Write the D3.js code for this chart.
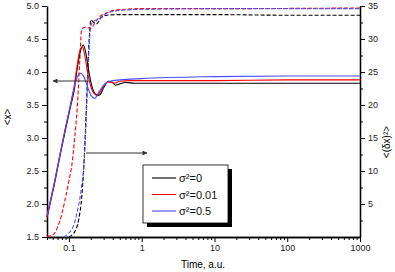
<!DOCTYPE html>
<html>
<head>
<meta charset="utf-8">
<script src="https://cdn.jsdelivr.net/npm/d3@7"></script>
<style>
body { margin:0; background:#fff; }
text { font-family: "Liberation Sans", Arial, sans-serif; }
</style>
</head>
<body>
<div id="chart"></div>
<script>
// time points and <x> (solid, left axis)
var tBlack = [0.05,0.064,0.077,0.09,0.105,0.118,0.13,0.145,0.158,0.17,0.185,0.2,0.22,0.25,0.27,0.3,0.35,0.4,0.44,0.5,0.6,0.8,1,10,100,1000];
var xBlack = [1.8,2.33,2.78,3.13,3.47,3.72,4.05,4.33,4.41,4.3,4.05,3.85,3.7,3.64,3.66,3.76,3.86,3.84,3.8,3.82,3.84,3.83,3.83,3.83,3.83,3.83];
var tRed = [0.05,0.064,0.077,0.09,0.105,0.118,0.13,0.142,0.154,0.165,0.18,0.2,0.22,0.245,0.27,0.3,0.35,0.42,0.5,0.7,1,10,100,1000];
var xRed = [1.8,2.35,2.8,3.16,3.5,3.78,4.1,4.33,4.38,4.25,4.0,3.78,3.68,3.65,3.7,3.79,3.85,3.83,3.86,3.87,3.87,3.87,3.88,3.88];
var tBlue = [0.05,0.064,0.077,0.09,0.105,0.116,0.13,0.145,0.16,0.18,0.2,0.226,0.26,0.3,0.37,0.5,1,10,100,1000];
var xBlue = [1.83,2.36,2.8,3.16,3.5,3.73,3.92,3.98,3.93,3.78,3.65,3.6,3.7,3.8,3.86,3.88,3.9,3.93,3.94,3.94];

// <(dx)^2> (dashed, right axis)
var tdBlack = [0.1,0.12,0.136,0.15,0.16,0.17,0.18,0.19,0.2,0.22,0.24,0.28,0.33,0.5,1,10,100,1000];
var dBlack = [0,0.8,2.6,6,10.5,17,24,30,32.9,32.5,32.3,33.3,33.6,33.7,33.7,33.7,33.6,33.6];
var tdRed = [0.05,0.06,0.07,0.08,0.09,0.1,0.11,0.12,0.13,0.14,0.15,0.17,0.2,0.22,0.26,0.32,0.4,0.6,1,10,1000];
var dRed = [0.1,0.3,1.5,3.5,6,8.5,11,15,19.5,26,31.5,31.8,31.6,32.2,33.3,33.9,34.3,34.5,34.6,34.6,34.7];
var tdBlue = [0.085,0.1,0.11,0.12,0.13,0.14,0.15,0.16,0.17,0.18,0.19,0.2,0.22,0.26,0.32,0.4,0.6,1,10,1000];
var dBlue = [0,0.6,1.2,2.2,3.8,5.5,7.8,10.5,16,23,29,32,32.7,33,33.8,34.2,34.4,34.5,34.6,34.6];

var seriesNames = ["\u03c3\u00b2=0","\u03c3\u00b2=0.01","\u03c3\u00b2=0.5"];
var seriesColors = ["#000000","#ff0000","#4c4cff"];
var xTickVals = [0.1,1,10,100,1000];
var xTickLabels = ["0.1","1","10","100","1000"];
var leftTicks = [1.5,2.0,2.5,3.0,3.5,4.0,4.5,5.0];
var rightTicks = [5,10,15,20,25,30,35];

var width = 395, height = 272;
var margin = {left:47, right:35, top:6, bottom:35};

var svg = d3.select("#chart").append("svg")
	.attr("width",width)
	.attr("height",height);

var xScale = d3.scaleLog().domain([0.05,1000]).range([margin.left,width-margin.right]);
var yLeft = d3.scaleLinear().domain([1.5,5]).range([height-margin.bottom,margin.top]);
var yRight = d3.scaleLinear().domain([0,35]).range([height-margin.bottom,margin.top]);

// minor ticks
var xMinor = [];
[0.01,0.1,1,10,100].forEach(function(p){
	for(var k=2;k<10;k++){
		var v = k*p;
		if(v>=0.05 && v<=1000) xMinor.push(v);
	}
});
var leftMinor = d3.range(1.75,5,0.5);
var rightMinor = d3.range(2.5,35,5);

var zero = height-margin.bottom;

svg.append("g")
	.attr("transform","translate(0,"+zero+")")
	.call(d3.axisBottom(xScale).tickValues(xMinor).tickSize(3).tickFormat("").tickSizeOuter(0));
svg.append("g")
	.attr("class","xaxis")
	.attr("transform","translate(0,"+zero+")")
	.call(d3.axisBottom(xScale).tickValues(xTickVals).tickSize(5).tickSizeOuter(0)
		.tickFormat(function(d,i){ return xTickLabels[i]; }));

svg.append("g")
	.attr("transform","translate("+margin.left+",0)")
	.call(d3.axisLeft(yLeft).tickValues(leftMinor).tickSize(3).tickFormat("").tickSizeOuter(0));
svg.append("g")
	.attr("transform","translate("+margin.left+",0)")
	.call(d3.axisLeft(yLeft).tickValues(leftTicks).tickSize(5).tickSizeOuter(0).tickFormat(d3.format(".1f")));

svg.append("g")
	.attr("transform","translate("+(width-margin.right)+",0)")
	.call(d3.axisRight(yRight).tickValues(rightMinor).tickSize(3).tickFormat("").tickSizeOuter(0));
svg.append("g")
	.attr("transform","translate("+(width-margin.right)+",0)")
	.call(d3.axisRight(yRight).tickValues(rightTicks).tickSize(5).tickSizeOuter(0));

svg.selectAll(".domain").style("stroke","#000").style("stroke-width",1.3);
svg.selectAll(".tick line").style("stroke","#000");
svg.selectAll(".tick text").style("font-size","9px").style("fill","#222")
	.style("font-family","'Liberation Sans', Arial, sans-serif");

// curves
var lineL = d3.line()
	.x(function(d){ return xScale(d[0]); })
	.y(function(d){ return yLeft(d[1]); })
	.curve(d3.curveMonotoneX);
var lineR = d3.line()
	.x(function(d){ return xScale(d[0]); })
	.y(function(d){ return yRight(d[1]); })
	.curve(d3.curveMonotoneX);

var dashed = [[tdBlack,dBlack],[tdRed,dRed],[tdBlue,dBlue]];
var solid = [[tBlack,xBlack],[tRed,xRed],[tBlue,xBlue]];

dashed.forEach(function(s,i){
	svg.append("path")
		.datum(d3.zip(s[0],s[1]))
		.attr("d",lineR)
		.attr("fill","none")
		.attr("stroke",seriesColors[i])
		.attr("stroke-width",1.1)
		.attr("stroke-dasharray","4,2");
});
solid.forEach(function(s,i){
	svg.append("path")
		.datum(d3.zip(s[0],s[1]))
		.attr("d",lineL)
		.attr("fill","none")
		.attr("stroke",seriesColors[i])
		.attr("stroke-width",1.1);
});

// arrows
var defs = svg.append("defs");
defs.append("marker")
	.attr("id","arr")
	.attr("viewBox","0 0 10 10")
	.attr("refX",9).attr("refY",5)
	.attr("markerWidth",7).attr("markerHeight",5)
	.attr("orient","auto")
	.append("path")
	.attr("d","M0,0L10,5L0,10Z")
	.attr("fill","#333");

svg.append("line")
	.attr("x1",89).attr("y1",81).attr("x2",53).attr("y2",81)
	.attr("stroke","#333").attr("stroke-width",1)
	.attr("marker-end","url(#arr)");
svg.append("line")
	.attr("x1",86).attr("y1",153).attr("x2",147).attr("y2",153)
	.attr("stroke","#333").attr("stroke-width",1)
	.attr("marker-end","url(#arr)");

// legend
var lg = {x:143, y:165, w:85, h:58};
svg.append("rect")
	.attr("x",lg.x+4).attr("y",lg.y+4).attr("width",lg.w).attr("height",lg.h)
	.attr("fill","#000");
svg.append("rect")
	.attr("x",lg.x).attr("y",lg.y).attr("width",lg.w).attr("height",lg.h)
	.attr("fill","#fff").attr("stroke","#000").attr("stroke-width",0.8);

var rows = svg.append("g").selectAll("g")
	.data(seriesNames)
	.enter()
	.append("g")
	.attr("transform",function(d,i){ return "translate("+lg.x+","+(lg.y+13+i*16.5)+")"; });
rows.append("line")
	.attr("x1",9).attr("x2",33).attr("y1",0).attr("y2",0)
	.attr("stroke",function(d,i){ return seriesColors[i]; })
	.attr("stroke-width",1.1);
rows.append("text")
	.attr("x",36).attr("y",4)
	.style("font-size","11px")
	.style("fill","#111")
	.text(function(d){ return d; });

// axis titles
svg.append("text")
	.attr("text-anchor","middle")
	.attr("x",203)
	.attr("y",268)
	.style("font-size","10px")
	.text("Time, a.u.");

svg.append("text")
	.attr("text-anchor","middle")
	.attr("transform","translate(11,117) rotate(-90)")
	.style("font-size","10px")
	.text("<x>");

svg.append("text")
	.attr("text-anchor","middle")
	.attr("transform","translate(390,142) rotate(-90)")
	.style("font-size","10px")
	.text("<(\u03b4x)\u00b2>");
</script>
</body>
</html>
